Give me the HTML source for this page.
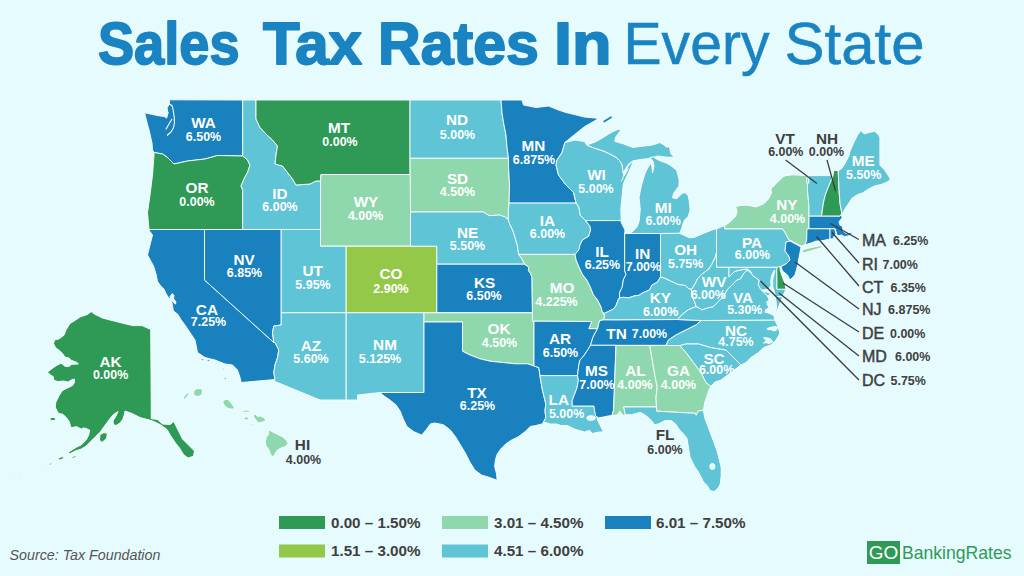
<!DOCTYPE html>
<html><head><meta charset="utf-8"><style>
html,body{margin:0;padding:0;}
body{width:1024px;height:576px;background:#e6fbfe;overflow:hidden;position:relative;font-family:"Liberation Sans",sans-serif;}
svg{position:absolute;left:0;top:0;}
</style></head><body>
<svg width="1024" height="576" viewBox="0 0 1024 576" font-family="Liberation Sans, sans-serif">
<rect width="1024" height="576" fill="#e6fbfe"/>
<g fill="#1a83c2" font-size="59.5">
<g stroke="#1a83c2" stroke-width="1.8" stroke-linejoin="round" font-weight="bold">
<text x="98" y="64.1" textLength="141.5" lengthAdjust="spacingAndGlyphs">Sales</text>
<text x="263" y="64.1" textLength="99" lengthAdjust="spacingAndGlyphs">Tax</text>
<text x="378" y="64.1" textLength="161" lengthAdjust="spacingAndGlyphs">Rates</text>
<text x="554" y="64.1" textLength="57.5" lengthAdjust="spacingAndGlyphs">In</text>
</g>
<g stroke="#1a83c2" stroke-width="0.5">
<text x="623.5" y="63.6" textLength="146" lengthAdjust="spacingAndGlyphs">Every</text>
<text x="784.5" y="63.6" textLength="140" lengthAdjust="spacingAndGlyphs">State</text>
</g>
</g>
<g stroke="#ffffff" stroke-width="0.9" stroke-linejoin="round">
<polygon fill="#1a81bf" points="169.4,99.8 242.7,100.0 242.7,156.0 217.5,155.5 205.0,159.0 187.5,161.0 174.0,164.0 167.5,157.5 162.5,154.0 154.0,152.5 152.5,150.0 152.0,143.0 150.7,137.2 149.2,130.4 147.6,125.0 146.1,118.9 144.6,112.8 151.5,114.3 159.0,115.8 164.4,116.6 166.7,118.1 168.0,113.0 167.0,108.0 169.4,104.0"/>
<polygon fill="#2e9a56" points="154.0,152.5 162.5,154.0 167.5,157.5 174.0,164.0 187.5,161.0 205.0,159.0 217.5,155.5 242.7,156.0 247.5,160.0 250.0,165.0 247.5,172.5 244.0,179.0 241.0,186.0 242.7,190.0 242.7,229.5 149.0,229.5 147.5,212.5 150.0,195.0 152.5,175.0 154.0,155.0"/>
<polygon fill="#1a81bf" points="149.0,229.5 204.5,229.5 204.5,280.0 273.8,342.5 275.0,342.5 278.8,350.0 277.5,357.5 275.0,365.0 273.8,372.5 275.0,379.5 241.2,382.5 240.0,377.5 237.5,370.0 232.5,365.0 225.0,364.0 215.0,360.0 205.0,357.5 197.5,352.5 195.0,340.0 190.0,332.5 185.0,325.0 181.2,320.0 177.8,314.3 173.4,310.8 172.6,306.5 171.7,301.3 168.0,297.0 166.0,293.4 163.9,289.1 160.4,285.6 157.4,281.3 156.3,275.0 153.5,266.0 147.5,255.0 150.0,245.0 152.5,235.0 148.8,230.0"/>
<polygon fill="#1a81bf" points="204.5,229.5 281.2,229.5 281.2,325.0 273.8,326.0 272.5,332.5 273.8,342.5 204.5,280.0"/>
<polygon fill="#5fc4d5" points="242.7,100.0 256.0,100.0 256.0,119.0 260.0,127.5 266.0,134.0 272.5,140.0 277.5,146.0 276.0,155.0 275.0,164.0 282.5,166.0 287.5,172.5 292.5,179.0 296.0,185.0 310.0,184.0 316.0,181.0 320.5,181.0 320.5,229.5 242.7,229.5 242.7,190.0 241.0,186.0 244.0,179.0 247.5,172.5 250.0,165.0 247.5,160.0 242.7,156.0"/>
<polygon fill="#2e9a56" points="256.0,100.0 410.0,100.0 410.0,174.5 321.0,174.5 320.5,181.0 316.0,181.0 310.0,184.0 296.0,185.0 292.5,179.0 287.5,172.5 282.5,166.0 275.0,164.0 276.0,155.0 277.5,146.0 272.5,140.0 266.0,134.0 260.0,127.5 256.0,119.0"/>
<polygon fill="#8fd8ae" points="321.0,174.5 410.5,174.5 410.5,246.2 320.5,246.2 320.5,181.0"/>
<polygon fill="#5fc4d5" points="281.2,229.5 320.5,229.5 320.5,246.2 346.2,246.2 346.2,312.8 281.2,312.8"/>
<polygon fill="#94c849" points="346.2,246.2 436.8,246.2 436.8,312.8 346.2,312.8"/>
<polygon fill="#5fc4d5" points="281.2,312.8 346.2,312.8 346.2,400.0 320.0,400.0 273.8,381.0 275.0,379.5 273.8,372.5 275.0,365.0 277.5,357.5 278.8,350.0 275.0,342.5 273.8,342.5 272.5,332.5 273.8,326.0 281.2,325.0"/>
<polygon fill="#5fc4d5" points="346.2,312.8 424.0,312.8 424.0,392.5 380.0,392.5 357.5,395.0 357.5,400.0 346.2,400.0"/>
<polygon fill="#5fc4d5" points="410.0,100.0 501.0,100.0 502.0,112.5 503.5,122.5 506.0,135.0 507.0,147.5 508.5,158.3 410.0,158.3"/>
<polygon fill="#8fd8ae" points="410.0,158.3 508.5,158.3 508.5,165.0 509.5,185.0 509.1,203.1 508.4,209.8 508.4,220.1 505.5,217.2 499.5,215.0 489.2,215.7 483.3,212.0 410.5,212.0"/>
<polygon fill="#5fc4d5" points="410.5,212.0 483.3,212.0 489.2,215.7 499.5,215.0 505.5,217.2 508.4,220.1 509.9,224.5 512.8,230.5 514.3,234.9 517.3,245.2 518.7,254.4 521.7,258.5 524.7,264.2 436.8,264.2 436.8,246.2 410.5,246.2"/>
<polygon fill="#1a81bf" points="436.8,264.2 524.7,264.2 529.1,267.4 528.3,270.3 530.6,273.3 532.0,277.7 532.5,312.8 436.8,312.8"/>
<polygon fill="#8fd8ae" points="424.0,312.8 534.0,312.8 534.0,366.0 527.5,363.8 515.0,363.8 502.5,362.5 490.0,361.2 480.0,358.8 470.0,355.0 462.5,351.2 462.5,322.0 424.0,322.0"/>
<polygon fill="#1a81bf" points="424.0,322.0 462.5,322.0 462.5,351.2 470.0,355.0 480.0,358.8 490.0,361.2 502.5,362.5 515.0,363.8 527.5,363.8 534.0,366.0 538.8,367.5 540.0,376.2 542.4,390.0 544.1,397.0 545.8,403.9 545.0,410.8 545.8,417.8 542.4,423.9 535.4,425.6 530.2,426.5 525.0,431.7 518.0,436.9 511.1,440.3 505.9,443.8 500.7,449.0 497.2,454.2 495.5,459.4 494.6,466.4 496.4,473.3 497.2,480.3 490.3,477.7 481.6,475.0 474.7,469.9 469.4,461.2 466.0,454.2 460.8,445.6 455.6,436.9 450.3,430.0 443.4,424.7 434.7,423.0 430.4,423.9 426.0,430.0 421.7,435.1 413.9,431.7 406.9,426.5 403.5,419.5 400.0,410.8 396.0,405.0 390.0,400.0 384.0,396.0 380.0,392.5 424.0,392.5"/>
<polygon fill="#1a81bf" points="501.0,100.0 522.0,100.0 523.5,105.0 536.0,107.5 548.5,106.0 558.5,110.0 566.0,112.5 574.6,114.6 584.3,117.0 597.2,118.2 597.0,119.6 584.3,126.8 572.2,136.5 564.9,142.6 562.0,152.5 557.0,160.0 556.0,165.0 558.5,175.0 566.0,185.0 573.5,192.5 576.0,203.1 509.1,203.1 509.5,185.0 508.5,165.0 508.5,158.3 507.0,147.5 506.0,135.0 503.5,122.5 502.0,112.5"/>
<polygon fill="#5fc4d5" points="564.9,142.6 574.6,140.1 584.3,141.4 586.8,145.0 594.0,148.0 603.8,151.1 610.0,154.0 616.0,157.2 619.5,160.5 622.0,164.5 623.3,173.0 624.0,176.0 627.0,168.0 631.0,162.5 633.3,161.6 631.0,167.0 627.8,174.0 625.0,180.0 623.3,184.0 622.0,197.3 620.8,209.5 621.2,220.6 585.6,220.6 585.0,220.0 580.0,215.0 578.8,207.5 576.2,203.1 573.5,192.5 566.0,185.0 558.5,175.0 556.0,165.0 557.0,160.0 562.0,152.5"/>
<polygon fill="#5fc4d5" points="509.1,203.1 576.2,203.1 578.8,207.5 580.0,215.0 585.0,220.0 590.0,226.2 590.6,230.0 588.8,236.2 582.5,240.0 580.0,245.0 578.8,250.0 575.0,254.4 518.7,254.4 517.3,245.2 514.3,234.9 512.8,230.5 509.9,224.5 508.4,220.1 508.4,209.8"/>
<polygon fill="#8fd8ae" points="518.7,254.4 575.0,254.4 576.2,260.3 579.4,268.0 582.5,274.4 587.2,280.6 590.3,286.9 593.4,294.7 597.6,300.0 601.1,307.0 602.3,311.7 604.6,316.4 603.4,319.9 599.9,320.5 598.8,323.4 597.6,328.7 588.8,328.7 591.7,321.5 532.5,321.2 532.0,277.7 530.6,273.3 528.3,270.3 529.1,267.4 524.7,264.2 521.7,258.5"/>
<polygon fill="#1a81bf" points="534.0,321.2 591.7,321.5 588.8,328.7 597.6,328.7 595.2,332.8 592.9,337.5 590.5,345.1 588.2,349.2 583.5,356.2 580.0,360.0 578.8,365.0 577.5,375.6 540.0,375.6 538.8,367.5 534.0,366.0"/>
<polygon fill="#5fc4d5" points="540.0,375.6 577.5,375.6 578.4,380.3 577.0,388.0 574.5,394.4 572.2,400.6 572.2,406.0 594.0,406.0 594.0,407.0 597.2,413.0 597.2,419.4 598.8,422.5 601.9,428.8 603.4,432.0 598.8,432.0 592.5,433.4 589.4,430.3 584.7,432.0 578.4,430.3 573.8,428.8 567.5,425.6 561.2,425.6 556.6,424.0 550.3,424.0 545.6,422.5 543.3,422.5 545.8,417.8 545.0,410.8 545.8,403.9 544.1,397.0 542.4,390.0 540.0,376.2"/>
<polygon fill="#1a81bf" points="585.6,220.6 621.2,220.6 621.2,222.5 625.0,230.0 624.7,233.5 624.7,270.6 626.0,274.5 623.4,279.7 622.1,287.5 619.5,292.7 619.5,298.0 618.4,299.4 616.0,305.6 613.8,308.8 607.5,311.9 604.4,313.4 602.3,311.7 601.1,307.0 597.6,300.0 593.4,294.7 590.3,286.9 587.2,280.6 582.5,274.4 579.4,268.0 576.2,260.3 575.0,254.4 578.8,250.0 580.0,245.0 582.5,240.0 588.8,236.2 590.6,230.0 590.0,226.2"/>
<polygon fill="#1a81bf" points="624.7,233.5 660.5,233.5 660.5,277.0 657.3,282.3 652.0,285.0 649.5,290.0 643.0,292.7 639.0,295.3 633.9,296.0 628.6,297.9 623.4,297.3 619.5,298.0 619.5,292.7 622.1,287.5 623.4,279.7 626.0,274.5 624.7,270.6"/>
<polygon fill="#5fc4d5" points="660.5,233.5 678.8,233.0 684.0,235.2 689.2,237.8 694.4,237.3 701.7,234.2 706.9,232.1 712.0,230.0 716.5,228.5 716.5,252.7 715.0,258.0 712.0,264.0 708.8,269.0 702.5,273.8 697.8,278.4 694.7,284.7 691.5,289.4 688.4,288.6 685.3,285.5 678.0,284.5 670.3,281.0 665.0,278.4 660.5,277.0"/>
<polygon fill="#5fc4d5" points="604.4,313.4 607.5,311.9 613.8,308.8 616.0,305.6 618.4,299.4 619.5,298.0 623.4,297.3 628.6,297.9 633.9,296.0 639.0,295.3 643.0,292.7 649.5,290.0 652.0,285.0 657.3,282.3 660.5,277.0 665.0,278.4 670.3,281.0 678.0,284.5 685.3,285.5 688.4,288.6 691.5,289.4 691.6,295.6 694.7,301.9 696.2,306.6 688.4,309.7 682.2,314.4 677.5,319.5 616.0,320.0 603.4,319.9 604.6,316.4"/>
<polygon fill="#1a81bf" points="603.4,319.9 616.0,320.0 677.5,319.5 701.0,320.5 696.0,325.0 686.0,330.0 676.0,335.0 668.5,340.0 666.0,345.3 590.5,345.3 592.9,337.5 595.2,332.8 597.6,328.7 598.8,323.4 599.9,320.5"/>
<polygon fill="#1a81bf" points="590.5,345.3 616.0,345.3 613.6,410.0 612.0,415.5 608.0,416.0 603.4,417.0 598.8,417.8 595.6,416.0 594.0,407.0 594.0,406.0 572.2,406.0 572.2,400.6 574.5,394.4 577.0,388.0 578.4,380.3 577.5,375.6 578.8,365.0 580.0,360.0 583.5,356.2 588.2,349.2"/>
<polygon fill="#8fd8ae" points="616.0,345.5 649.8,345.5 653.5,367.5 657.2,387.5 656.0,397.5 656.5,407.0 623.8,407.0 625.3,414.7 623.8,416.0 619.8,411.6 617.5,414.7 613.6,415.5 612.0,415.5 613.6,410.0"/>
<polygon fill="#8fd8ae" points="649.8,345.5 679.8,345.5 686.0,352.5 693.5,362.5 701.0,372.5 706.0,382.5 710.8,386.2 708.8,390.4 706.7,396.7 704.6,403.0 703.5,410.2 698.3,411.2 696.2,415.4 695.2,413.3 656.7,411.2 656.5,407.0 656.0,397.5 657.2,387.5 653.5,367.5"/>
<polygon fill="#5fc4d5" points="623.8,407.0 656.5,407.0 656.7,411.2 695.2,413.3 696.2,415.4 698.3,411.2 703.5,410.2 704.6,417.5 707.7,425.8 710.8,434.2 714.0,442.5 717.0,450.8 719.2,459.2 721.2,467.5 721.2,475.8 720.2,484.2 718.0,488.3 714.0,491.5 709.8,490.4 707.7,486.2 703.5,482.0 700.4,475.8 698.3,471.7 695.2,467.5 692.0,461.2 690.0,457.0 689.0,450.8 688.0,444.6 686.9,438.3 683.8,434.2 679.6,430.0 675.4,423.8 671.2,420.6 665.0,420.6 658.8,423.8 654.6,424.8 652.5,421.7 648.3,417.5 644.2,414.4 640.0,412.3 631.6,414.7 625.3,414.7"/>
<polygon fill="#5fc4d5" points="679.8,345.5 686.0,343.8 698.5,343.8 711.0,347.5 726.0,350.0 731.0,355.0 741.0,365.0 731.0,372.5 721.0,380.0 715.0,382.0 710.8,386.2 706.0,382.5 701.0,372.5 693.5,362.5 686.0,352.5"/>
<polygon fill="#5fc4d5" points="701.0,320.5 774.8,320.0 778.5,327.5 779.8,333.8 776.0,340.0 771.0,345.0 763.5,347.5 758.5,352.5 751.0,357.5 746.0,362.5 741.0,365.0 731.0,355.0 726.0,350.0 711.0,347.5 698.5,343.8 686.0,343.8 679.8,345.5 666.0,345.5 668.5,340.0 676.0,335.0 686.0,330.0 696.0,325.0"/>
<polygon fill="#5fc4d5" points="677.5,319.5 682.2,314.4 688.4,309.7 696.2,306.6 702.5,309.7 707.2,308.0 713.4,306.6 718.0,302.0 722.8,297.0 727.5,289.4 732.2,284.7 736.9,280.0 740.4,278.9 743.8,273.3 747.1,270.0 751.6,273.3 756.0,277.8 759.3,280.6 758.2,284.4 760.4,288.9 762.7,291.1 767.1,295.6 769.3,300.0 767.1,304.4 769.3,307.8 766.0,310.0 764.9,312.2 769.3,313.3 773.8,315.6 774.9,320.0 701.0,320.5"/>
<polygon fill="#5fc4d5" points="775.0,296.5 782.7,296.7 780.4,302.2 778.2,307.8 776.6,312.2 775.8,312.2 776.2,306.7 775.8,301.1"/>
<polygon fill="#5fc4d5" points="716.5,252.7 716.5,267.2 729.0,267.2 729.0,277.0 733.8,272.0 736.0,271.0 740.4,270.0 743.8,269.4 747.1,268.9 750.4,271.1 752.7,275.6 756.0,277.8 751.6,273.3 747.1,270.0 743.8,273.3 740.4,278.9 736.9,280.0 732.2,284.7 727.5,289.4 722.8,297.0 718.0,302.0 713.4,306.6 707.2,308.0 702.5,309.7 696.2,306.6 694.7,301.9 691.6,295.6 691.5,289.4 694.7,284.7 697.8,278.4 702.5,273.8 708.8,269.0 712.0,264.0 715.0,258.0"/>
<polygon fill="#5fc4d5" points="729.0,267.2 777.0,267.2 777.0,289.0 786.0,289.0 782.7,296.7 775.0,296.5 767.1,295.6 762.7,291.1 760.4,288.9 758.2,284.4 759.3,280.6 756.0,277.8 752.7,275.6 750.4,271.1 747.1,268.9 743.8,269.4 740.4,270.0 736.0,271.0 733.8,272.0 729.0,277.0"/>
<polygon fill="#2e9a56" points="776.6,266.4 779.6,266.0 780.4,271.0 782.7,277.8 784.9,283.3 786.0,289.2 777.0,289.2 776.8,267.0"/>
<polygon fill="#5fc4d5" points="716.5,229.0 721.0,227.0 724.7,225.5 724.7,228.8 782.5,228.8 785.6,233.4 787.2,236.6 788.8,239.7 790.0,241.0 786.0,242.0 785.6,245.0 785.0,251.0 788.8,256.0 790.0,260.0 786.0,264.0 781.0,266.5 777.1,267.2 716.5,267.2"/>
<polygon fill="#1a81bf" points="790.0,241.0 801.0,247.0 800.0,252.5 799.0,257.5 797.5,266.0 795.0,275.0 790.0,280.0 787.5,275.0 782.5,271.0 781.0,266.5 786.0,264.0 790.0,260.0 788.8,256.0 785.0,251.0 785.6,245.0 786.0,242.0"/>
<polygon fill="#8fd8ae" points="724.7,228.8 724.7,225.5 729.4,222.5 735.6,216.2 737.2,211.6 735.6,206.9 740.3,205.3 748.0,205.3 756.0,206.9 763.8,203.8 768.4,199.0 771.6,192.8 770.8,189.0 773.0,186.6 777.8,181.9 782.5,177.2 785.6,175.6 793.4,174.8 807.5,175.6 806.7,180.3 807.5,185.0 807.5,191.2 808.3,199.0 809.0,206.9 809.0,215.5 809.0,228.0 807.5,228.8 806.7,238.0 806.0,242.8 806.0,244.4 801.2,246.0 795.0,242.8 788.8,239.7 787.2,236.6 785.6,233.4 782.5,228.8"/>
<polygon fill="#8fd8ae" points="802.3,250.0 810.0,247.8 818.0,246.2 823.5,245.4 820.5,248.0 812.0,250.5 805.0,252.5 802.3,253.0"/>
<polygon fill="#5fc4d5" points="809.8,175.6 833.0,175.6 830.3,182.5 828.0,188.0 826.0,193.0 824.5,198.0 823.4,203.4 822.5,209.0 821.5,216.2 809.0,216.2 809.0,206.9 808.3,199.0 807.5,191.2 807.5,185.0 806.7,180.3 807.5,175.6"/>
<polygon fill="#2e9a56" points="833.8,170.4 838.2,170.4 838.6,180.0 839.0,189.5 840.0,203.4 841.6,212.0 842.0,216.2 821.5,216.2 822.5,209.0 823.4,203.4 824.5,198.0 826.0,193.0 828.0,188.0 830.3,182.5 833.0,175.6"/>
<polygon fill="#5fc4d5" points="860.8,130.4 864.2,133.9 869.0,132.5 874.6,131.3 878.0,134.0 879.9,137.4 879.9,150.0 879.9,165.2 885.0,170.4 889.4,177.3 890.3,180.0 886.0,182.5 881.6,184.3 874.6,186.0 867.7,189.5 862.5,193.0 857.3,194.7 852.0,198.2 848.6,203.4 845.1,208.6 842.5,213.8 841.6,212.0 840.0,203.4 839.0,189.5 838.6,180.0 838.2,170.4 839.0,170.4 841.6,168.6 845.1,163.4 848.6,156.5 850.3,150.4 853.8,142.6 857.3,135.6"/>
<polygon fill="#1a81bf" points="809.0,216.2 840.0,216.2 841.0,214.5 842.2,217.8 839.0,221.7 839.8,224.8 842.6,226.4 843.0,231.1 846.1,233.4 850.0,232.7 852.3,231.9 851.6,234.2 848.4,235.8 844.5,236.6 841.4,235.0 838.3,235.8 836.7,234.2 835.2,228.8 809.0,228.8"/>
<polygon fill="#1a81bf" points="807.0,228.8 830.0,228.8 830.0,238.9 823.4,240.5 815.6,241.2 811.7,242.8 804.7,244.8 806.6,241.2"/>
<polygon fill="#1a81bf" points="830.0,228.8 834.6,228.8 835.9,233.4 834.4,235.8 832.8,238.9 830.0,238.9"/>
<polygon fill="#5fc4d5" points="586.8,145.0 596.5,141.4 603.0,137.5 608.7,134.0 613.0,131.5 618.4,129.2 621.0,130.0 616.0,136.5 614.7,141.4 619.0,142.6 623.3,143.8 628.0,145.8 633.0,147.4 642.7,146.2 652.5,145.0 659.8,142.6 664.0,145.0 667.0,147.4 669.5,146.2 670.7,153.5 674.4,157.2 667.0,157.2 661.0,156.3 657.3,156.0 650.0,158.4 640.3,159.6 633.0,160.8 628.1,164.5 624.5,170.6 623.3,173.0 622.0,164.5 619.5,160.5 616.0,157.2 610.0,154.0 603.8,151.1 594.0,148.0"/>
<polygon fill="#5fc4d5" points="650.0,157.5 653.4,156.9 657.3,159.6 662.0,161.5 667.0,163.3 672.0,166.5 676.8,170.6 679.2,180.3 678.8,186.2 673.5,193.5 672.5,197.7 676.7,198.8 681.9,193.5 685.0,192.5 688.1,195.6 689.2,200.8 690.2,210.2 688.1,216.5 685.0,219.6 682.9,223.8 681.9,228.0 679.8,233.2 660.5,233.5 629.5,233.5 633.0,231.2 637.0,227.0 639.0,221.7 640.3,209.5 639.0,197.3 641.5,185.2 645.2,173.0 648.5,166.5 650.5,163.5 652.0,167.0 652.5,173.0 654.0,166.0 653.0,161.5"/>
<polygon fill="#2e9a56" points="91.2,311.6 95.0,314.4 102.5,318.0 110.0,320.0 121.2,322.8 132.5,325.6 141.9,325.6 150.7,329.4 151.3,418.6 157.5,419.5 162.5,424.0 170.0,424.5 173.8,421.5 177.5,429.0 182.5,439.0 190.0,446.5 194.5,451.0 193.5,456.2 188.0,458.0 183.5,454.5 179.5,448.0 175.5,443.0 170.5,435.5 167.0,429.5 160.0,424.5 154.0,421.5 151.3,420.5 140.2,417.6 132.0,413.5 125.0,411.0 124.5,414.0 123.0,419.0 120.0,423.0 116.0,425.5 113.5,424.5 113.0,421.0 116.0,416.0 118.0,411.5 114.0,414.0 110.4,418.0 106.8,422.9 103.2,427.8 100.7,431.4 95.9,436.3 91.0,441.2 86.2,446.0 81.3,449.0 75.2,451.0 70.4,453.6 67.9,453.3 70.4,450.9 76.4,447.2 81.3,444.8 86.2,440.0 88.6,435.1 89.8,430.2 87.4,429.0 83.7,427.8 81.3,429.0 76.4,426.6 71.0,427.8 69.2,421.7 66.7,418.1 63.1,414.4 58.2,413.2 55.2,407.1 55.8,402.3 59.4,395.0 62.5,390.5 67.5,388.0 72.5,385.5 74.5,382.5 74.4,379.0 71.2,380.0 68.1,382.1 64.0,381.0 57.7,381.6 53.5,380.0 53.5,376.9 50.4,374.8 47.3,372.2 53.5,367.5 56.7,365.4 60.8,363.3 62.9,364.4 65.0,366.5 69.2,366.5 71.2,364.4 78.5,363.9 76.5,362.3 71.2,360.2 69.2,358.1 65.0,357.1 62.9,354.0 59.8,350.8 55.6,347.7 53.5,343.5 54.6,339.9 58.8,338.9 64.0,335.2 66.0,330.0 70.0,323.5 75.0,320.5 80.0,317.0 87.5,314.4"/>
<polygon fill="#e6fbfe" stroke="#fff" stroke-width="0.6" points="773.8,270.4 775.0,270.6 773.8,275.6 772.8,281.1 773.0,286.7 774.3,291.1 775.4,295.6 776.0,301.1 776.4,306.7 776.0,312.2 773.8,313.5 768.2,312.2 764.9,310.0 769.3,307.8 768.2,304.4 766.0,302.2 769.3,300.0 768.8,296.7 770.0,293.3 764.9,291.7 761.6,290.0 768.5,288.9 770.8,285.6 770.5,281.1 771.5,275.6"/>
<path d="M169.4,104 L172.3,106 L173.3,111 L174.2,117 L174.4,123 L173.4,128 L171,132 L167,135.5 M172,119 L169,124 L165.8,129.5 M165,109 l1.5,0.5 M167.5,112 l0.8,1.2" fill="none" stroke="#fff" stroke-width="1.1"/>
<polygon fill="#e6fbfe" points="767,328.5 771,327.2 775,326.6 777.6,327.2 776.6,330 774,331 771,329.6 768,329.8"/>
<polygon fill="#e6fbfe" points="763.5,337.8 768,338 771,339.2 772.6,342 769.2,343.6 766,342.6 763.5,343.2 766.2,340.4"/>
<polygon fill="#e6fbfe" points="170,296.5 172.4,293.6 174,295.6 173.6,298.6 176,302 175.4,304.2 172.4,301.2 170.6,299.2"/>
<path d="M621.2,181.5 L624.2,175.5 L628.5,168.2" fill="none" stroke="#fff" stroke-width="1"/>
<ellipse cx="591" cy="418" rx="4.2" ry="2.3" fill="#e6fbfe"/>
<path d="M619.5,411 L620.3,414.5" stroke="#e6fbfe" stroke-width="1.6"/>
<path d="M604.2,121.5 L611,117.2" stroke="#1a81bf" stroke-width="1.8" stroke-linecap="round"/>
<ellipse cx="202.5" cy="359.8" rx="1.8" ry="0.8" fill="#1a81bf"/>
<ellipse cx="208.5" cy="360.6" rx="1.6" ry="0.8" fill="#1a81bf"/>
<ellipse cx="223.6" cy="369" rx="0.8" ry="0.8" fill="#1a81bf"/>
<ellipse cx="225.2" cy="378.5" rx="0.9" ry="1.1" fill="#1a81bf"/>
<path d="M808.4,176 L808.9,183.5" stroke="#fff" stroke-width="1.2"/>
<ellipse cx="712.4" cy="466.5" rx="2.6" ry="3" fill="#e6fbfe"/>
<path d="M184.6,397.8 L187.6,394.2" stroke="#8fd8ae" stroke-width="1.5" stroke-linecap="round"/>
<polygon fill="#8fd8ae" points="194,390.5 197,388.7 200.5,388.6 202.6,390.5 202.4,393.5 200,396 196.5,396.4 193.5,394.5"/>
<polygon fill="#8fd8ae" points="225.5,399.3 228.5,399.6 230,401.8 231.8,403.8 234.2,407.4 232.6,409.2 229,408.8 226,407.2 223.4,404.2 222.8,401.4"/>
<polygon fill="#8fd8ae" points="241.7,410.8 246,410 251,410.6 250.5,412 245,412.2 242,412"/>
<ellipse cx="246.3" cy="418.5" rx="2.3" ry="1.6" fill="#8fd8ae"/>
<polygon fill="#8fd8ae" points="253.4,414.5 256,414.4 257.5,416.5 260,416 263.5,417.5 266,420 263,422 258,423 256,420 254,417.5"/>
<ellipse cx="252.8" cy="424.8" rx="1.4" ry="0.8" fill="#8fd8ae"/>
<polygon fill="#8fd8ae" points="269,430 272,431.5 275,433 279,435 283,437 286.5,440.5 288,443.5 285.5,446.5 281,448 277,450.5 275,454 273.5,456.5 271.5,456 270,453 268.5,449 266,446 265.2,441.5 266.5,437 268.5,434.5 268.3,431.5"/>
<polygon fill="#2e9a56" points="100,434.5 104,432.5 107.4,433.5 106.5,438.5 102,442.4 99.5,440"/>
<ellipse cx="61" cy="458.3" rx="3" ry="1.3" fill="#2e9a56" opacity="1" transform="rotate(-20 61 458.3)"/>
<ellipse cx="74" cy="457" rx="2.4" ry="0.9" fill="#2e9a56" opacity="1" transform="rotate(-20 74 457)"/>
<ellipse cx="50.5" cy="464" rx="1.3" ry="0.9" fill="#2e9a56" opacity="1" transform="rotate(-20 50.5 464)"/>
<ellipse cx="42" cy="468" rx="1" ry="0.6" fill="#2e9a56" opacity="0.6" transform="rotate(-20 42 468)"/>
<ellipse cx="32" cy="472" rx="1.2" ry="0.6" fill="#2e9a56" opacity="0.5" transform="rotate(-20 32 472)"/>
<ellipse cx="20" cy="475.5" rx="1.2" ry="0.6" fill="#2e9a56" opacity="0.4" transform="rotate(-20 20 475.5)"/>
<ellipse cx="9" cy="477.5" rx="1.2" ry="0.6" fill="#2e9a56" opacity="0.4" transform="rotate(-20 9 477.5)"/>
<ellipse cx="52.8" cy="419" rx="3" ry="1.6" fill="#2e9a56"/>
</g>
<g stroke="#3a3a3a" stroke-width="1.25">
<line x1="785.6" y1="160.0" x2="816.9" y2="183.4"/>
<line x1="827.0" y1="160.0" x2="835.6" y2="191.2"/>
<line x1="830.5" y1="223.5" x2="858.8" y2="239.5"/>
<line x1="832.0" y1="232.5" x2="859.0" y2="263.0"/>
<line x1="816.5" y1="236.5" x2="859.0" y2="286.0"/>
<line x1="795.0" y1="262.0" x2="859.0" y2="309.0"/>
<line x1="783.0" y1="283.0" x2="859.0" y2="332.0"/>
<line x1="779.0" y1="293.0" x2="859.0" y2="356.0"/>
<line x1="760.5" y1="281.0" x2="859.0" y2="380.0"/>
</g>
<text x="203.5" y="127.5" font-size="15.3" fill="#ffffff" text-anchor="middle" font-weight="bold">WA</text>
<text x="203.5" y="141.0" font-size="12.0" fill="#ffffff" text-anchor="middle" font-weight="bold" textLength="35.3" lengthAdjust="spacingAndGlyphs">6.50%</text>
<text x="339.0" y="132.5" font-size="15.3" fill="#ffffff" text-anchor="middle" font-weight="bold">MT</text>
<text x="340.0" y="145.5" font-size="12.0" fill="#ffffff" text-anchor="middle" font-weight="bold" textLength="35.3" lengthAdjust="spacingAndGlyphs">0.00%</text>
<text x="197.0" y="193.2" font-size="15.3" fill="#ffffff" text-anchor="middle" font-weight="bold">OR</text>
<text x="197.0" y="206.0" font-size="12.0" fill="#ffffff" text-anchor="middle" font-weight="bold" textLength="35.3" lengthAdjust="spacingAndGlyphs">0.00%</text>
<text x="280.0" y="198.8" font-size="15.3" fill="#ffffff" text-anchor="middle" font-weight="bold">ID</text>
<text x="280.0" y="211.0" font-size="12.0" fill="#ffffff" text-anchor="middle" font-weight="bold" textLength="35.3" lengthAdjust="spacingAndGlyphs">6.00%</text>
<text x="366.0" y="207.0" font-size="15.3" fill="#ffffff" text-anchor="middle" font-weight="bold">WY</text>
<text x="365.6" y="220.0" font-size="12.0" fill="#ffffff" text-anchor="middle" font-weight="bold" textLength="35.3" lengthAdjust="spacingAndGlyphs">4.00%</text>
<text x="457.0" y="125.0" font-size="15.3" fill="#ffffff" text-anchor="middle" font-weight="bold">ND</text>
<text x="457.5" y="139.0" font-size="12.0" fill="#ffffff" text-anchor="middle" font-weight="bold" textLength="35.3" lengthAdjust="spacingAndGlyphs">5.00%</text>
<text x="457.5" y="183.8" font-size="15.3" fill="#ffffff" text-anchor="middle" font-weight="bold">SD</text>
<text x="457.5" y="196.0" font-size="12.0" fill="#ffffff" text-anchor="middle" font-weight="bold" textLength="35.3" lengthAdjust="spacingAndGlyphs">4.50%</text>
<text x="533.5" y="151.0" font-size="15.3" fill="#ffffff" text-anchor="middle" font-weight="bold">MN</text>
<text x="534.0" y="164.0" font-size="12.0" fill="#ffffff" text-anchor="middle" font-weight="bold" textLength="42.5" lengthAdjust="spacingAndGlyphs">6.875%</text>
<text x="596.5" y="180.0" font-size="15.3" fill="#ffffff" text-anchor="middle" font-weight="bold">WI</text>
<text x="596.0" y="193.0" font-size="12.0" fill="#ffffff" text-anchor="middle" font-weight="bold" textLength="35.3" lengthAdjust="spacingAndGlyphs">5.00%</text>
<text x="467.5" y="237.5" font-size="15.3" fill="#ffffff" text-anchor="middle" font-weight="bold">NE</text>
<text x="467.5" y="250.0" font-size="12.0" fill="#ffffff" text-anchor="middle" font-weight="bold" textLength="35.3" lengthAdjust="spacingAndGlyphs">5.50%</text>
<text x="547.5" y="226.0" font-size="15.3" fill="#ffffff" text-anchor="middle" font-weight="bold">IA</text>
<text x="547.5" y="238.0" font-size="12.0" fill="#ffffff" text-anchor="middle" font-weight="bold" textLength="35.3" lengthAdjust="spacingAndGlyphs">6.00%</text>
<text x="391.0" y="279.0" font-size="15.3" fill="#ffffff" text-anchor="middle" font-weight="bold">CO</text>
<text x="391.0" y="293.0" font-size="12.0" fill="#ffffff" text-anchor="middle" font-weight="bold" textLength="35.3" lengthAdjust="spacingAndGlyphs">2.90%</text>
<text x="484.5" y="287.5" font-size="15.3" fill="#ffffff" text-anchor="middle" font-weight="bold">KS</text>
<text x="484.0" y="300.0" font-size="12.0" fill="#ffffff" text-anchor="middle" font-weight="bold" textLength="35.3" lengthAdjust="spacingAndGlyphs">6.50%</text>
<text x="562.0" y="292.5" font-size="15.3" fill="#ffffff" text-anchor="middle" font-weight="bold">MO</text>
<text x="556.5" y="305.5" font-size="12.0" fill="#ffffff" text-anchor="middle" font-weight="bold" textLength="42.5" lengthAdjust="spacingAndGlyphs">4.225%</text>
<text x="244.0" y="265.0" font-size="15.3" fill="#ffffff" text-anchor="middle" font-weight="bold">NV</text>
<text x="244.5" y="277.0" font-size="12.0" fill="#ffffff" text-anchor="middle" font-weight="bold" textLength="35.3" lengthAdjust="spacingAndGlyphs">6.85%</text>
<text x="312.6" y="276.0" font-size="15.3" fill="#ffffff" text-anchor="middle" font-weight="bold">UT</text>
<text x="313.0" y="289.0" font-size="12.0" fill="#ffffff" text-anchor="middle" font-weight="bold" textLength="35.3" lengthAdjust="spacingAndGlyphs">5.95%</text>
<text x="206.9" y="314.5" font-size="15.3" fill="#ffffff" text-anchor="middle" font-weight="bold">CA</text>
<text x="208.5" y="326.0" font-size="12.0" fill="#ffffff" text-anchor="middle" font-weight="bold" textLength="35.3" lengthAdjust="spacingAndGlyphs">7.25%</text>
<text x="311.0" y="350.5" font-size="15.3" fill="#ffffff" text-anchor="middle" font-weight="bold">AZ</text>
<text x="311.0" y="363.0" font-size="12.0" fill="#ffffff" text-anchor="middle" font-weight="bold" textLength="35.3" lengthAdjust="spacingAndGlyphs">5.60%</text>
<text x="385.0" y="350.0" font-size="15.3" fill="#ffffff" text-anchor="middle" font-weight="bold">NM</text>
<text x="380.0" y="362.5" font-size="12.0" fill="#ffffff" text-anchor="middle" font-weight="bold" textLength="42.5" lengthAdjust="spacingAndGlyphs">5.125%</text>
<text x="499.0" y="334.0" font-size="15.3" fill="#ffffff" text-anchor="middle" font-weight="bold">OK</text>
<text x="499.5" y="347.0" font-size="12.0" fill="#ffffff" text-anchor="middle" font-weight="bold" textLength="35.3" lengthAdjust="spacingAndGlyphs">4.50%</text>
<text x="560.0" y="344.0" font-size="15.3" fill="#ffffff" text-anchor="middle" font-weight="bold">AR</text>
<text x="560.5" y="357.0" font-size="12.0" fill="#ffffff" text-anchor="middle" font-weight="bold" textLength="35.3" lengthAdjust="spacingAndGlyphs">6.50%</text>
<text x="477.0" y="397.5" font-size="15.3" fill="#ffffff" text-anchor="middle" font-weight="bold">TX</text>
<text x="477.5" y="410.0" font-size="12.0" fill="#ffffff" text-anchor="middle" font-weight="bold" textLength="35.3" lengthAdjust="spacingAndGlyphs">6.25%</text>
<text x="558.8" y="405.0" font-size="15.3" fill="#ffffff" text-anchor="middle" font-weight="bold">LA</text>
<text x="566.6" y="417.5" font-size="12.0" fill="#ffffff" text-anchor="middle" font-weight="bold" textLength="35.3" lengthAdjust="spacingAndGlyphs">5.00%</text>
<text x="596.4" y="376.4" font-size="15.3" fill="#ffffff" text-anchor="middle" font-weight="bold">MS</text>
<text x="597.0" y="389.0" font-size="12.0" fill="#ffffff" text-anchor="middle" font-weight="bold" textLength="35.3" lengthAdjust="spacingAndGlyphs">7.00%</text>
<text x="635.4" y="376.4" font-size="15.3" fill="#ffffff" text-anchor="middle" font-weight="bold">AL</text>
<text x="635.0" y="389.0" font-size="12.0" fill="#ffffff" text-anchor="middle" font-weight="bold" textLength="35.3" lengthAdjust="spacingAndGlyphs">4.00%</text>
<text x="678.5" y="376.4" font-size="15.3" fill="#ffffff" text-anchor="middle" font-weight="bold">GA</text>
<text x="678.5" y="389.0" font-size="12.0" fill="#ffffff" text-anchor="middle" font-weight="bold" textLength="35.3" lengthAdjust="spacingAndGlyphs">4.00%</text>
<text x="602.0" y="257.2" font-size="15.3" fill="#ffffff" text-anchor="middle" font-weight="bold">IL</text>
<text x="602.4" y="269.0" font-size="12.0" fill="#ffffff" text-anchor="middle" font-weight="bold" textLength="35.3" lengthAdjust="spacingAndGlyphs">6.25%</text>
<text x="642.6" y="258.8" font-size="15.3" fill="#ffffff" text-anchor="middle" font-weight="bold">IN</text>
<text x="643.4" y="271.2" font-size="12.0" fill="#ffffff" text-anchor="middle" font-weight="bold" textLength="35.3" lengthAdjust="spacingAndGlyphs">7.00%</text>
<text x="660.3" y="302.5" font-size="15.3" fill="#ffffff" text-anchor="middle" font-weight="bold">KY</text>
<text x="660.6" y="315.8" font-size="12.0" fill="#ffffff" text-anchor="middle" font-weight="bold" textLength="35.3" lengthAdjust="spacingAndGlyphs">6.00%</text>
<text x="685.7" y="255.0" font-size="15.3" fill="#ffffff" text-anchor="middle" font-weight="bold">OH</text>
<text x="685.7" y="267.5" font-size="12.0" fill="#ffffff" text-anchor="middle" font-weight="bold" textLength="35.3" lengthAdjust="spacingAndGlyphs">5.75%</text>
<text x="714.2" y="287.0" font-size="15.3" fill="#ffffff" text-anchor="middle" font-weight="bold">WV</text>
<text x="708.3" y="298.8" font-size="12.0" fill="#ffffff" text-anchor="middle" font-weight="bold" textLength="35.3" lengthAdjust="spacingAndGlyphs">6.00%</text>
<text x="743.0" y="302.5" font-size="15.3" fill="#ffffff" text-anchor="middle" font-weight="bold">VA</text>
<text x="744.8" y="314.0" font-size="12.0" fill="#ffffff" text-anchor="middle" font-weight="bold" textLength="35.3" lengthAdjust="spacingAndGlyphs">5.30%</text>
<text x="752.0" y="247.5" font-size="15.3" fill="#ffffff" text-anchor="middle" font-weight="bold">PA</text>
<text x="752.5" y="259.4" font-size="12.0" fill="#ffffff" text-anchor="middle" font-weight="bold" textLength="35.3" lengthAdjust="spacingAndGlyphs">6.00%</text>
<text x="786.8" y="210.0" font-size="15.3" fill="#ffffff" text-anchor="middle" font-weight="bold">NY</text>
<text x="787.5" y="222.5" font-size="12.0" fill="#ffffff" text-anchor="middle" font-weight="bold" textLength="35.3" lengthAdjust="spacingAndGlyphs">4.00%</text>
<text x="663.2" y="212.5" font-size="15.3" fill="#ffffff" text-anchor="middle" font-weight="bold">MI</text>
<text x="663.2" y="224.5" font-size="12.0" fill="#ffffff" text-anchor="middle" font-weight="bold" textLength="35.3" lengthAdjust="spacingAndGlyphs">6.00%</text>
<text x="736.0" y="336.0" font-size="15.3" fill="#ffffff" text-anchor="middle" font-weight="bold">NC</text>
<text x="736.0" y="346.0" font-size="12.0" fill="#ffffff" text-anchor="middle" font-weight="bold" textLength="35.3" lengthAdjust="spacingAndGlyphs">4.75%</text>
<text x="714.0" y="363.8" font-size="15.3" fill="#ffffff" text-anchor="middle" font-weight="bold">SC</text>
<text x="716.6" y="374.0" font-size="12.0" fill="#ffffff" text-anchor="middle" font-weight="bold" textLength="35.3" lengthAdjust="spacingAndGlyphs">6.00%</text>
<text x="863.2" y="165.5" font-size="15.3" fill="#ffffff" text-anchor="middle" font-weight="bold">ME</text>
<text x="863.7" y="178.9" font-size="12.0" fill="#ffffff" text-anchor="middle" font-weight="bold" textLength="35.3" lengthAdjust="spacingAndGlyphs">5.50%</text>
<text x="110.5" y="366.9" font-size="15.3" fill="#ffffff" text-anchor="middle" font-weight="bold">AK</text>
<text x="110.6" y="379.0" font-size="12.0" fill="#ffffff" text-anchor="middle" font-weight="bold" textLength="35.3" lengthAdjust="spacingAndGlyphs">0.00%</text>
<text x="616.5" y="339.0" font-size="15.3" fill="#ffffff" text-anchor="middle" font-weight="bold">TN</text>
<text x="649.5" y="338.0" font-size="12.0" fill="#ffffff" text-anchor="middle" font-weight="bold" textLength="35.3" lengthAdjust="spacingAndGlyphs">7.00%</text>
<text x="302.5" y="450.0" font-size="15.3" fill="#404040" text-anchor="middle" font-weight="bold">HI</text>
<text x="303.5" y="464.0" font-size="12.0" fill="#404040" text-anchor="middle" font-weight="bold" textLength="35.3" lengthAdjust="spacingAndGlyphs">4.00%</text>
<text x="665.0" y="440.4" font-size="15.3" fill="#404040" text-anchor="middle" font-weight="bold">FL</text>
<text x="665.0" y="454.0" font-size="12.0" fill="#404040" text-anchor="middle" font-weight="bold" textLength="35.3" lengthAdjust="spacingAndGlyphs">6.00%</text>
<text x="785.0" y="143.8" font-size="15.3" fill="#404040" text-anchor="middle" font-weight="bold">VT</text>
<text x="785.8" y="156.0" font-size="12.0" fill="#404040" text-anchor="middle" font-weight="bold" textLength="35.3" lengthAdjust="spacingAndGlyphs">6.00%</text>
<text x="827.0" y="143.8" font-size="15.3" fill="#404040" text-anchor="middle" font-weight="bold">NH</text>
<text x="826.5" y="156.0" font-size="12.0" fill="#404040" text-anchor="middle" font-weight="bold" textLength="35.3" lengthAdjust="spacingAndGlyphs">0.00%</text>
<text x="862" y="245.5" font-size="16" fill="#404040" stroke="#404040" stroke-width="0.45">MA</text>
<text x="893.0" y="244.7" font-size="12.0" fill="#404040" text-anchor="start" font-weight="bold" textLength="35.3" lengthAdjust="spacingAndGlyphs">6.25%</text>
<text x="862" y="269.5" font-size="16" fill="#404040" stroke="#404040" stroke-width="0.45">RI</text>
<text x="882.5" y="268.7" font-size="12.0" fill="#404040" text-anchor="start" font-weight="bold" textLength="35.3" lengthAdjust="spacingAndGlyphs">7.00%</text>
<text x="862" y="293.2" font-size="16" fill="#404040" stroke="#404040" stroke-width="0.45">CT</text>
<text x="890.5" y="292.4" font-size="12.0" fill="#404040" text-anchor="start" font-weight="bold" textLength="35.3" lengthAdjust="spacingAndGlyphs">6.35%</text>
<text x="862" y="315.0" font-size="16" fill="#404040" stroke="#404040" stroke-width="0.45">NJ</text>
<text x="888.0" y="314.2" font-size="12.0" fill="#404040" text-anchor="start" font-weight="bold" textLength="42.5" lengthAdjust="spacingAndGlyphs">6.875%</text>
<text x="862" y="338.5" font-size="16" fill="#404040" stroke="#404040" stroke-width="0.45">DE</text>
<text x="890.0" y="337.7" font-size="12.0" fill="#404040" text-anchor="start" font-weight="bold" textLength="35.3" lengthAdjust="spacingAndGlyphs">0.00%</text>
<text x="862" y="362.0" font-size="16" fill="#404040" stroke="#404040" stroke-width="0.45">MD</text>
<text x="895.0" y="361.2" font-size="12.0" fill="#404040" text-anchor="start" font-weight="bold" textLength="35.3" lengthAdjust="spacingAndGlyphs">6.00%</text>
<text x="862" y="385.5" font-size="16" fill="#404040" stroke="#404040" stroke-width="0.45">DC</text>
<text x="890.5" y="384.7" font-size="12.0" fill="#404040" text-anchor="start" font-weight="bold" textLength="35.3" lengthAdjust="spacingAndGlyphs">5.75%</text>
<g>
<rect x="279" y="516" width="46" height="13" fill="#2e9a56"/>
<rect x="442" y="516" width="46" height="13" fill="#8fd8ae"/>
<rect x="605" y="516" width="46" height="13" fill="#1a81bf"/>
<rect x="279" y="544.5" width="46" height="13" fill="#94c849"/>
<rect x="442" y="544.5" width="46" height="13" fill="#5fc4d5"/>
<g font-size="15.2" font-weight="bold" fill="#404040">
<text x="331" y="527.6">0.00 – 1.50%</text>
<text x="494" y="527.6">3.01 – 4.50%</text>
<text x="656" y="527.6">6.01 – 7.50%</text>
<text x="331" y="556.1">1.51 – 3.00%</text>
<text x="494" y="556.1">4.51 – 6.00%</text>
</g>
</g>
<text x="9.6" y="559.8" font-size="15.5" font-style="italic" fill="#555555" textLength="150.8" lengthAdjust="spacingAndGlyphs">Source: Tax Foundation</text>
<rect x="867" y="541" width="33" height="23" fill="#2e9a55"/>
<text x="883.5" y="559" font-size="19" fill="#ffffff" text-anchor="middle">GO</text>
<text x="902" y="559" font-size="19" fill="#2e9a55" textLength="109.5" lengthAdjust="spacingAndGlyphs">BankingRates</text>
</svg>
</body></html>
